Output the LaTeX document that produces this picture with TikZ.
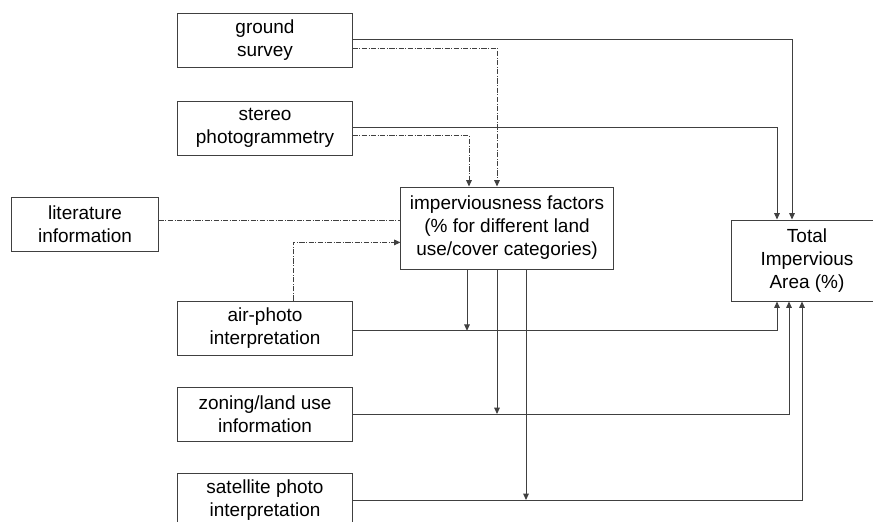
\documentclass[tikz,border=0pt]{standalone}
\usepackage{fontspec}
\setmainfont{Liberation Sans}
\usetikzlibrary{arrows.meta,calc}
\definecolor{boxgray}{rgb}{0.25, 0.25, 0.25}

\begin{document}
\begin{tikzpicture}[x=0.025cm, y=-0.025cm,
				font=\fontsize{13.5}{16.4}\selectfont,
				src/.style={draw=boxgray, line width=0.7pt, align=center, minimum width=4.35cm, minimum height=1.35cm, inner sep=2pt},
				flow/.style={draw=boxgray, line width=0.7pt},
				dashdot/.style={flow, dash pattern=on 0.13cm off 0.04cm on 0.02cm off 0.04cm},
				arr/.style={-{Triangle[length=0.16cm, width=0.14cm]}}]
				\clip (0,0) rectangle (873,521);

				\node[src] (gs) at (265,40) {ground\\survey};
				\node[src] (sp) at (265,128) {stereo\\photogrammetry};
				\node[src, minimum width=3.65cm] (li) at (85,224.5) {literature\\information};
				\node[src] (ap) at (265,328) {air-photo\\interpretation};
				\node[src] (zl) at (265,414) {zoning/land use\\information};
				\node[src] (sat) at (265,500) {satellite photo\\interpretation};
				\node[src, minimum width=5.3cm, minimum height=2.05cm] (imp) at (507,228) {imperviousness factors\\(\% for different land\\use/cover categories)};
				\node[src, minimum width=3.8cm, minimum height=2.025cm] (tia) at (807,260.5) {Total\\Impervious\\Area (\%)};

				% direct estimates into the total
				\draw[flow,arr] ([yshift=0.025cm]gs.east) -| ([xshift=-0.375cm]tia.north);
				\draw[flow,arr] ([yshift=0.025cm]sp.east) -| ([xshift=-0.75cm]tia.north);
				\draw[flow,arr] ([yshift=-0.07cm]ap.east) -| ([xshift=-0.75cm]tia.south);
				\draw[flow,arr] (zl.east) -| ([xshift=-0.45cm]tia.south);
				\draw[flow,arr] (sat.east) -| ([xshift=-0.125cm]tia.south);

				% sources of the factors
				\draw[dashdot,arr] ([yshift=-0.2cm]gs.east) -| ([xshift=-0.25cm]imp.north);
				\draw[dashdot,arr] ([yshift=-0.19cm]sp.east) -| ([xshift=-0.95cm]imp.north);
				\draw[dashdot] ([yshift=0.1cm]li.east) -- ([yshift=0.1cm]li.east -| imp.west);
				\draw[dashdot,arr] ([xshift=0.7cm]ap.north) |- ([yshift=-0.36cm]imp.west);

				% factors applied to the mapped areas
				\draw[flow,arr] ([xshift=-1cm]imp.south) -- ([xshift=-1cm, yshift=-0.07cm]imp.south |- ap.east);
				\draw[flow,arr] ([xshift=-0.25cm]imp.south) -- ([xshift=-0.25cm]imp.south |- zl.east);
				\draw[flow,arr] ([xshift=0.475cm]imp.south) -- ([xshift=0.475cm]imp.south |- sat.east);
			\end{tikzpicture}
\end{document}
